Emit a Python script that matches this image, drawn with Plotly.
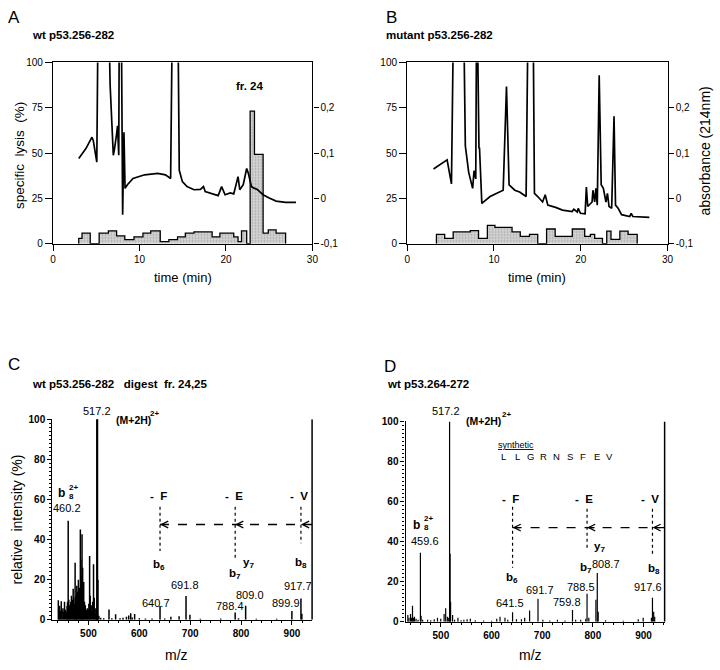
import plotly.graph_objects as go

FONT = "Liberation Sans, Arial, sans-serif"
W, H = 720, 670

# ---------------- Panel A : wt p53.256-282 (HPLC) ----------------
a_time = [2.97, 3.8, 4.5, 4.65, 5.06, 5.25, 6.35, 6.6, 6.97, 7.1,
          7.35, 7.46, 7.6, 7.68, 7.86, 8.05, 8.2, 8.33, 8.6, 9.25,
          10.6, 12.1, 13.0, 13.6, 13.85, 14.4, 14.6, 14.96, 15.5, 16.3,
          17.05, 17.4, 17.6, 18.6, 19.1, 19.5, 19.9, 20.5, 20.9, 21.4,
          21.6, 22.0, 22.3, 22.4, 22.6, 22.95, 23.3, 23.6, 23.9, 24.3,
          25.0, 25.8, 26.9, 28.1]
a_abs = [0.088, 0.110, 0.135, 0.128, 0.080, 0.5, 0.5, 0.251, 0.095, 0.108,
         0.142, 0.160, 0.095, 0.5, 0.5, -0.036, 0.146, 0.022, 0.030, 0.044,
         0.052, 0.055, 0.052, 0.044, 0.5, 0.5, 0.062, 0.037, 0.026, 0.019,
         0.020, 0.026, 0.015, 0.010, 0.006, 0.026, 0.008, 0.012, 0.010, 0.048,
         0.019, 0.030, 0.060, 0.066, 0.055, 0.026, 0.022, 0.020, 0.015, 0.008,
         0.001, -0.006, -0.009, -0.009]
a_frac_edges = [2.97, 3.35, 4.3, 5.33, 6.4, 7.35, 8.3, 9.36, 10.4, 11.3, 12.4,
                13.4, 14.4, 15.3, 16.3, 18.4, 19.3, 20.9, 21.4, 21.8, 22.4,
                22.8, 23.3, 24.3, 24.9, 25.8, 26.9]
a_lysis = [2.9, 5.8, 0, 5.8, 7.1, 4.3, 2.2, 3.8, 5.8, 7.1, 1.1, 2.2, 3.8,
           5.8, 6.5, 3.8, 5.8, 3.8, 1.1, 7.1, 0, 73.2, 49.3, 5.8, 7.6, 5.8]

# ---------------- Panel B : mutant p53.256-282 (HPLC) ----------------
b_time = [3.03, 4.6, 5.1, 5.4, 6.44, 6.7, 7.08, 7.54, 7.7, 7.9,
          8.02, 8.1, 8.2, 8.27, 8.33, 8.6, 9.55, 11.06, 11.44, 11.74,
          12.4, 12.95, 13.7, 13.98, 14.47, 14.66, 15.04, 15.6, 15.9, 16.2,
          17.1, 17.9, 19.0, 19.2, 19.6, 19.7, 19.96, 20.5, 20.64, 20.8,
          21.3, 21.4, 21.6, 21.74, 21.9, 22.12, 22.35, 22.6, 22.9, 23.07,
          23.26, 23.56, 23.83, 24.0, 24.3, 24.7, 25.64, 25.8, 26.0, 27.9]
b_abs = [0.065, 0.085, 0.032, 0.5, 0.5, 0.116, 0.058, 0.022, 0.061, 0.043,
         0.5, 0.5, 0.159, 0.110, 0.112, -0.011, 0.004, 0.018, 0.247, 0.030,
         0.018, 0.014, 0.004, 0.5, 0.5, 0.011, 0.004, -0.008, 0.008, -0.015,
         -0.020, -0.026, -0.029, -0.024, -0.030, -0.022, -0.033, -0.034, 0.025, -0.018,
         -0.008, 0.018, -0.008, 0.022, -0.015, 0.272, 0.030, 0.022, -0.008, 0.011,
         -0.018, -0.022, 0.181, -0.015, -0.022, -0.036, -0.040, -0.033, -0.040, -0.042]
b_frac_edges = [3.37, 4.32, 5.3, 7.27, 8.22, 9.24, 10.11, 12.08, 13.03, 14.09,
                15.04, 16.06, 17.05, 19.02, 20.45, 21.1, 21.6, 22.5, 22.99,
                23.48, 24.5, 25.45, 26.5]
b_lysis = [5.1, 2.9, 6.5, 7.2, 2.9, 10.1, 9.0, 6.5, 4.0, 5.1, 0, 8.1, 4.0,
           8.1, 4.0, 5.1, 2.9, 0, 6.9, 2.4, 6.9, 5.1]

# ---------------- Panel C : wt p53.256-282 digest fr. 24,25 (MS) ----------------
c_mz = [440.8, 441.8, 443.3, 444.8, 446.6, 448.0, 449.9, 451.4, 453.0, 454.6,
        456.3, 458.0, 459.0, 460.2, 461.4, 462.8, 464.2, 465.3, 466.6, 468.2,
        470.0, 471.2, 472.5, 473.8, 475.2, 476.0, 477.1, 478.6, 480.2, 481.4,
        482.6, 484.1, 485.2, 486.2, 487.4, 488.6, 489.6, 490.7, 492.2, 493.8,
        495.4, 496.6, 497.7, 499.2, 500.8, 502.3, 503.6, 505.4, 506.8, 508.4,
        510.0, 511.4, 513.2, 514.6, 515.8, 516.6, 517.2, 517.8, 518.6, 520.5,
        524.0, 530.0, 540.4, 546.0, 553.4, 562.0, 568.0, 574.7, 579.2, 583.1,
        586.0, 590.8, 600.0, 612.0, 625.0, 640.7, 650.0, 662.0, 678.2, 691.8,
        699.5, 720.0, 760.0, 788.4, 795.0, 809.0, 830.0, 870.0, 899.9, 917.7, 919.5]
c_int = [9.8, 6, 7, 4.5, 9.3, 5, 5.7, 4, 9, 5,
         4, 7, 9, 49.4, 10, 7.3, 6, 9, 12, 10,
         15.5, 11, 8, 28.5, 12, 9, 17, 14, 20, 10,
         16, 45, 30, 22, 42.7, 26, 12, 18.8, 9, 7.3,
         4, 5, 5.7, 5, 8, 31.8, 12, 7.3, 4, 9,
         27.7, 11, 5.7, 3, 5, 100, 100, 100, 20, 2,
         1, 0.8, 5.2, 0.8, 2.8, 0.8, 1, 1.5, 2.1, 3.3,
         1.2, 2.9, 0.8, 0.6, 0.6, 6.9, 0.6, 1.5, 1.8, 11.9,
         2.5, 0.5, 0.6, 3.6, 0.8, 7.0, 0.5, 0.5, 4.4, 10.6, 3]

# ---------------- Panel D : wt p53.264-272 synthetic (MS) ----------------
d_mz = [434.8, 437.0, 440.1, 442.0, 444.0, 446.0, 447.9, 451.0, 455.0, 459.6,
        461.0, 464.0, 473.8, 480.0, 486.9, 493.3, 499.8, 506.4, 509.5, 512.8,
        515.5, 517.2, 518.2, 519.2, 523.1, 527.0, 533.7, 540.0, 545.4, 551.8,
        558.2, 568.0, 584.3, 600.0, 610.3, 616.7, 626.5, 632.0, 641.5, 649.2,
        659.0, 665.4, 675.1, 691.7, 701.3, 715.0, 730.0, 745.0, 759.8, 766.0,
        776.0, 786.0, 788.5, 792.0, 806.0, 808.7, 810.5, 825.0, 860.0, 889.5,
        899.3, 915.5, 917.6, 920.0, 922.0]
d_int = [3.4, 2, 3.9, 2, 8.0, 2, 2.5, 1.5, 1, 34.5,
         3, 1, 1, 0.8, 1.3, 2, 1.5, 3.9, 6.8, 2.5,
         2, 100, 34, 10, 3.4, 1, 2, 0.8, 1, 1.3,
         1.5, 0.8, 0.6, 0.5, 1.5, 2.5, 2, 1, 4.7, 1.2,
         1.2, 2, 5.6, 11.5, 1, 0.6, 1, 0.6, 5.9, 1,
         1, 1.5, 14, 2, 11, 24.4, 5, 0.8, 0.5, 1.3,
         2, 2, 12, 5, 2.5]
d_sequence = ["L", "L", "G", "R", "N", "S", "F", "E", "V"]

C_RANGE = [429.1, 939.6]
D_RANGE = [430.4, 941.6]


def step_outline(edges, vals):
    xs = [edges[0]] + list(edges)
    ys = [0] + list(vals) + [0]
    return xs, ys


def sticks(mz, inten):
    xs, ys = [], []
    for m, i in zip(mz, inten):
        xs += [m, m, None]
        ys += [0, i, None]
    return xs, ys


fig = go.Figure()

hist_style = dict(mode="lines", line=dict(color="black", width=1.3, shape="hv"),
                  fill="tozeroy",
                  fillpattern=dict(shape=".", fgcolor="#7d7d7d", bgcolor="#d6d6d6",
                                   size=3, solidity=0.35),
                  hoverinfo="skip")
line_style = dict(mode="lines", line=dict(color="black", width=1.7), hoverinfo="skip")

hx, hy = step_outline(a_frac_edges, a_lysis)
fig.add_trace(go.Scatter(x=hx, y=hy, xaxis="x", yaxis="y", **hist_style))
fig.add_trace(go.Scatter(x=a_time, y=a_abs, xaxis="x", yaxis="y2", **line_style))

hx, hy = step_outline(b_frac_edges, b_lysis)
fig.add_trace(go.Scatter(x=hx, y=hy, xaxis="x2", yaxis="y3", **hist_style))
fig.add_trace(go.Scatter(x=b_time, y=b_abs, xaxis="x2", yaxis="y4", **line_style))

sx, sy = sticks(c_mz, c_int)
fig.add_trace(go.Scatter(x=sx, y=sy, xaxis="x3", yaxis="y5", mode="lines",
                         line=dict(color="black", width=1.5), hoverinfo="skip"))
sx, sy = sticks(d_mz, d_int)
fig.add_trace(go.Scatter(x=sx, y=sy, xaxis="x4", yaxis="y6", mode="lines",
                         line=dict(color="black", width=1.2), hoverinfo="skip"))

tickf = dict(size=10, family=FONT, color="black")
tickfb = dict(size=10, family=FONT, color="black", weight="bold")
base = dict(showline=True, linecolor="black", linewidth=1.3, ticks="outside",
            tickcolor="black", tickwidth=1.2, showgrid=False, zeroline=False)

yA = [1 - 242 / H, 1 - 57.5 / H]
right_vals = [-0.1, 0, 0.1, 0.2]
right_text = ["-0,1", "0", "0,1", "0,2"]

layout_axes = dict(
    xaxis=dict(**base, domain=[50.7 / W, 313.3 / W], range=[0, 30], tickvals=[0, 10, 20, 30],
               ticklen=6, mirror=True, anchor="y", tickfont=tickf),
    yaxis=dict(**base, domain=yA, range=[0, 100], tickvals=[0, 25, 50, 75, 100],
               ticklen=7, mirror=True, anchor="x", tickfont=tickf),
    yaxis2=dict(**base, overlaying="y", side="right", anchor="x", range=[-0.1, 0.3],
                tickvals=right_vals, ticktext=right_text, ticklen=5, tickfont=tickf),
    xaxis2=dict(**base, domain=[409.3 / W, 673 / W], range=[0, 30], tickvals=[0, 10, 20, 30],
                ticklen=6, mirror=True, anchor="y3", tickfont=tickf),
    yaxis3=dict(**base, domain=yA, range=[0, 100], tickvals=[0, 25, 50, 75, 100],
                ticklen=7, mirror=True, anchor="x2", tickfont=tickf),
    yaxis4=dict(**base, overlaying="y3", side="right", anchor="x2", range=[-0.1, 0.3],
                tickvals=right_vals, ticktext=right_text, ticklen=5, tickfont=tickf),
    xaxis3=dict(**base, domain=[50 / W, 313 / W], range=C_RANGE,
                tickvals=[500, 600, 700, 800, 900], ticklen=4, anchor="y5", tickfont=tickfb,
                minor=dict(ticks="outside", dtick=20, tick0=500, ticklen=2, tickcolor="black")),
    yaxis5=dict(**base, domain=[1 - 625 / H, 1 - 420.7 / H], range=[0, 100], dtick=20,
                ticklen=4, anchor="x3", tickfont=tickfb,
                minor=dict(ticks="outside", dtick=2, ticklen=2, tickcolor="black")),
    xaxis4=dict(**base, domain=[407.7 / W, 670 / W], range=D_RANGE,
                tickvals=[500, 600, 700, 800, 900], ticklen=4, anchor="y6", tickfont=tickfb,
                minor=dict(ticks="outside", dtick=20, tick0=500, ticklen=2, tickcolor="black")),
    yaxis6=dict(**base, domain=[1 - 627 / H, 1 - 423 / H], range=[0, 100], dtick=20,
                ticklen=4, anchor="x4", tickfont=tickfb,
                minor=dict(ticks="outside", dtick=2, ticklen=2, tickcolor="black")),
)

ann = []


def P(text, px, py, size, bold=False, xanchor="left", yanchor="middle", angle=0):
    if bold:
        text = "<b>" + text + "</b>"
    ann.append(dict(text=text, x=px / W, y=1 - py / H, xref="paper", yref="paper",
                    showarrow=False, xanchor=xanchor, yanchor=yanchor, textangle=angle,
                    font=dict(size=size, family=FONT, color="black")))


def D(text, x, y, xr, yr, size=10.5, bold=False, xanchor="center", yanchor="middle",
      xshift=0, yshift=0):
    if bold:
        text = "<b>" + text + "</b>"
    ann.append(dict(text=text, x=x, y=y, xref=xr, yref=yr, showarrow=False,
                    xanchor=xanchor, yanchor=yanchor, xshift=xshift, yshift=yshift,
                    font=dict(size=size, family=FONT, color="black")))


# panel letters & titles
P("A", 3, 12, 17)
P("B", 386, 12, 17)
P("C", 3, 365, 17)
P("D", 384, 367, 17)
P("wt p53.256-282", 27, 29.5, 11.5, bold=True)
P("mutant p53.256-282", 386, 29.5, 11.5, bold=True)
P("wt p53.256-282&nbsp;&nbsp;&nbsp;digest&nbsp;&nbsp;fr. 24,25", 27, 385, 11.5, bold=True)
P("wt p53.264-272", 387, 385, 11.5, bold=True)

# axis titles
P("specific&nbsp;&nbsp;lysis&nbsp;&nbsp;(%)", 16, 152, 13.5, xanchor="center", angle=-90)
P("time (min)", 182, 276, 13, xanchor="center")
P("time (min)", 541, 276, 13, xanchor="center")
P("absorbance (214nm)", 711, 148, 14, xanchor="center", angle=-90)
P("relative&nbsp;&nbsp;intensity (%)", 14, 523, 14, xanchor="center", angle=-90)
P("m/z", 176, 661, 14, xanchor="center")
P("m/z", 534, 661, 14, xanchor="center")

# Panel A annotation
D("fr. 24", 22.7, 87.2, "x", "y", size=11.5, bold=True)

shapes = []


def ms_annotations(xr, yr, xmax, lab, base_peak, mh, b82, fev, dotted, arrow_y, ions, nums):
    # labels above the frame are anchored at y=100 and shifted in pixels
    D("517.2", base_peak[0], 100, xr, yr, size=11, yanchor="bottom", yshift=base_peak[1])
    D("(M+2H)", mh[0], 100, xr, yr, size=10.5, bold=True, xanchor="left", yshift=mh[1])
    D("2+", mh[2], 100, xr, yr, size=8, bold=True, xanchor="left", yshift=mh[3])
    # b8 2+
    D("b", b82[0], b82[1], xr, yr, size=12, bold=True, xanchor="right")
    D("2+", b82[0], b82[1], xr, yr, size=8, bold=True, xanchor="left", yshift=6)
    D("8", b82[0], b82[1], xr, yr, size=8, bold=True, xanchor="left", yshift=-3)
    D(lab[0], lab[1], lab[2], xr, yr, size=11)
    for txt, x in zip(["-&nbsp;&nbsp;F", "-&nbsp;&nbsp;E", "-&nbsp;&nbsp;V"], fev[0]):
        D(txt, x, fev[1], xr, yr, size=11.5, bold=True)
    for x, y0, y1 in dotted:
        shapes.append(dict(type="line", xref=xr, yref=yr, x0=x, x1=x, y0=y0, y1=y1,
                           line=dict(color="black", width=1.2, dash="dot")))
    shapes.append(dict(type="line", xref=xr, yref=yr, x0=dotted[0][0], x1=xmax,
                       y0=arrow_y, y1=arrow_y, line=dict(color="black", width=1.3, dash="dash")))
    for x, _, _ in dotted:
        ann.append(dict(x=x, y=arrow_y, xref=xr, yref=yr, ax=9, ay=0, text="",
                        showarrow=True, arrowhead=5, arrowsize=1.1, arrowwidth=1.2,
                        arrowcolor="black"))
    for txt, x, y in ions:
        D(txt, x, y, xr, yr, size=11.5, bold=True)
    for txt, x, y in nums:
        D(txt, x, y, xr, yr, size=11)
    shapes.append(dict(type="line", xref=xr + " domain", yref=yr,
                       x0=1, x1=1, y0=0, y1=100, line=dict(color="black", width=1.5)))


ms_annotations("x3", "y5", C_RANGE[1],
               lab=("460.2", 458.3, 55.8),
               base_peak=(516.5, 0),
               mh=(549.5, -1, 617.4, 6),
               b82=(457.3, 63.1),
               fev=([636.8, 786.3, 914.4], 61.8),
               dotted=[(640.7, 56.3, 34.3), (788.4, 56.3, 30.8), (917.7, 56.3, 38.2)],
               arrow_y=47.5,
               ions=[("b<sub>6</sub>", 638.8, 27.4), ("b<sub>7</sub>", 788.2, 23.0),
                     ("y<sub>7</sub>", 815.4, 28.4), ("b<sub>8</sub>", 918.3, 28.4)],
               nums=[("640.7", 632, 8.6), ("691.8", 689.2, 17.1), ("788.4", 778.5, 7.1),
                     ("809.0", 818.3, 12.2), ("899.9", 889.2, 8.3), ("917.7", 911.5, 16.6)])

ms_annotations("x4", "y6", D_RANGE[1],
               lab=("459.6", 469, 40.5),
               base_peak=(509.9, 2),
               mh=(545.9, 0, 616.1, 7),
               b82=(463.1, 48.5),
               fev=([637.5, 782.7, 912.3], 61.3),
               dotted=[(641.5, 57.4, 27.0), (788.5, 56.4, 36.3), (917.6, 56.4, 33.8)],
               arrow_y=47.0,
               ions=[("b<sub>6</sub>", 639.5, 21.6), ("b<sub>7</sub>", 785.7, 27.0),
                     ("y<sub>7</sub>", 813.9, 37.3), ("b<sub>8</sub>", 920.5, 26.5)],
               nums=[("641.5", 636.6, 9.3), ("691.7", 695.1, 15.7), ("759.8", 748.6, 9.8),
                     ("788.5", 776.9, 17.2), ("808.7", 826.6, 28.9), ("917.6", 909.4, 17.2)])

# synthetic sequence
D("<u>synthetic</u>", 648.3, 88.2, "x4", "y6", size=9)
for i, letter in enumerate(d_sequence):
    D(letter, 729.1, 82.4, "x4", "y6", size=9.5, xshift=(i - 4) * 13.25)

fig.update_layout(**layout_axes)
fig.update_layout(width=W, height=H, margin=dict(l=0, r=0, t=0, b=0),
                  paper_bgcolor="white", plot_bgcolor="white", showlegend=False,
                  annotations=ann, shapes=shapes, hovermode=False,
                  font=dict(family=FONT, color="black"))

fig.write_html("out.html", config={"displayModeBar": False},
               post_script="document.body.style.margin='0px';")
